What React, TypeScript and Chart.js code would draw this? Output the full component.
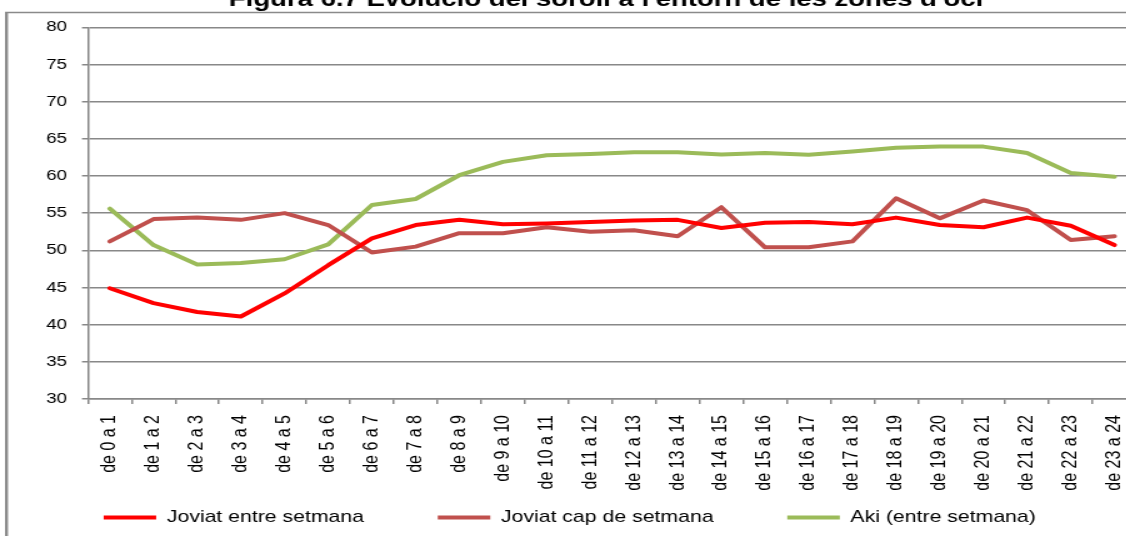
import React, { useEffect, useRef } from 'react';
import { Chart, registerables } from 'chart.js';

Chart.register(...registerables);

// ---- data ----
const TITLE = "Figura 6.7 Evolució del soroll a l'entorn de les zones d'oci";

const CATEGORIES = [
  'de 0 a 1', 'de 1 a 2', 'de 2 a 3', 'de 3 a 4', 'de 4 a 5', 'de 5 a 6',
  'de 6 a 7', 'de 7 a 8', 'de 8 a 9', 'de 9 a 10', 'de 10 a 11', 'de 11 a 12',
  'de 12 a 13', 'de 13 a 14', 'de 14 a 15', 'de 15 a 16', 'de 16 a 17', 'de 17 a 18',
  'de 18 a 19', 'de 19 a 20', 'de 20 a 21', 'de 21 a 22', 'de 22 a 23', 'de 23 a 24',
];

const SERIES_NAMES = ['Joviat entre setmana', 'Joviat cap de setmana', 'Aki (entre setmana)'];

const JOVIAT_ENTRE = [
  44.9, 42.9, 41.7, 41.1, 44.2, 48.0, 51.6, 53.4, 54.1, 53.5, 53.6, 53.8,
  54.0, 54.1, 53.0, 53.7, 53.8, 53.5, 54.4, 53.4, 53.1, 54.4, 53.3, 50.7,
];

const JOVIAT_CAP = [
  51.2, 54.2, 54.4, 54.1, 55.0, 53.4, 49.7, 50.5, 52.3, 52.3, 53.1, 52.5,
  52.7, 51.9, 55.8, 50.4, 50.4, 51.2, 57.0, 54.3, 56.7, 55.4, 51.4, 51.9,
];

const AKI_ENTRE = [
  55.6, 50.7, 48.1, 48.3, 48.8, 50.8, 56.1, 56.9, 60.1, 61.9, 62.8, 62.95,
  63.2, 63.2, 62.9, 63.1, 62.85, 63.3, 63.8, 63.95, 63.95, 63.1, 60.4, 59.9,
];

const Y_MIN = 30;
const Y_MAX = 80;
const Y_STEP = 5;

const COLORS = ['#FF0000', '#C0504D', '#9BBB59'];

// ---- layout (the reference picture is stretched horizontally) ----
const SX = 1.25;
const PAGE_W = 1126;
const PAGE_H = 536;
const CANVAS_W = 922;
const PLOT_LEFT = 88 / SX;
const PLOT_RIGHT_PAD = 10.4;
const PLOT_TOP = 27.3;
const PLOT_BOTTOM = 399;
const GRID = '#888888';
const FONT = "'Liberation Sans', Arial, sans-serif";

const decorPlugin = {
  id: 'decor',
  afterLayout(chart: any) {
    // let the rotated category labels run down past the axis box (no clipping)
    const xs = chart.scales && chart.scales.x;
    if (xs) xs.bottom = chart.height;
  },
  beforeDraw(chart: any) {
    const ctx = chart.ctx;
    ctx.save();
    ctx.fillStyle = '#ffffff';
    ctx.fillRect(0, 0, chart.width, chart.height);
    ctx.strokeStyle = '#8a8a8a';
    ctx.lineWidth = 2.4;
    ctx.beginPath();
    ctx.moveTo(5.2, 12);
    ctx.lineTo(5.2, chart.height);
    ctx.stroke();
    ctx.lineWidth = 1.5;
    ctx.beginPath();
    ctx.moveTo(4, 12.5);
    ctx.lineTo(chart.width, 12.5);
    ctx.stroke();
    ctx.restore();
  },
  afterDraw(chart: any) {
    const ctx = chart.ctx;
    ctx.save();
    ctx.fillStyle = '#000000';
    ctx.font = `bold 22px ${FONT}`;
    ctx.textAlign = 'center';
    ctx.textBaseline = 'alphabetic';
    ctx.fillText(TITLE, 606 / SX, 6);
    ctx.restore();
  },
};

export default function App() {
  const canvasRef = useRef<HTMLCanvasElement | null>(null);

  useEffect(() => {
    if (!canvasRef.current) return;
    const series = [JOVIAT_ENTRE, JOVIAT_CAP, AKI_ENTRE];
    const chart = new Chart(canvasRef.current, {
      type: 'line',
      data: {
        labels: CATEGORIES,
        datasets: series.map((values, i) => ({
          label: SERIES_NAMES[i],
          data: values,
          borderColor: COLORS[i],
          backgroundColor: COLORS[i],
          borderWidth: 4,
          borderCapStyle: 'round',
          borderJoinStyle: 'round',
          pointRadius: 0,
          pointHoverRadius: 0,
          tension: 0,
          fill: false,
        })),
      },
      options: {
        animation: false,
        responsive: true,
        maintainAspectRatio: false,
        devicePixelRatio: 1,
        layout: { padding: { left: 0, right: PLOT_RIGHT_PAD, top: PLOT_TOP, bottom: 0 } },
        plugins: {
          title: { display: false },
          tooltip: { enabled: false },
          legend: {
            display: true,
            position: 'bottom',
            align: 'center',
            labels: {
              usePointStyle: true,
              pointStyle: 'line',
              pointStyleWidth: 42,
              padding: 59,
              color: '#000000',
              font: { family: FONT, size: 17 },
            },
          },
        },
        scales: {
          x: {
            type: 'category',
            offset: true,
            grid: {
              offset: true,
              drawOnChartArea: false,
              drawTicks: true,
              tickLength: 5,
              color: GRID,
              lineWidth: 1.5,
            },
            border: { display: true, color: GRID, width: 1.5 },
            ticks: {
              autoSkip: false,
              maxRotation: 90,
              minRotation: 90,
              padding: 11,
              color: '#000000',
              font: { family: FONT, size: 16 },
            },
            afterFit: (scale: any) => {
              const legendH = scale.chart.legend ? scale.chart.legend.height : 0;
              scale.height = scale.chart.height - PLOT_BOTTOM - legendH;
            },
          },
          y: {
            min: Y_MIN,
            max: Y_MAX,
            grid: {
              drawOnChartArea: true,
              drawTicks: true,
              tickLength: 4.8,
              color: GRID,
              lineWidth: 1.5,
            },
            border: { display: true, color: GRID, width: 1.5 },
            ticks: {
              stepSize: Y_STEP,
              padding: 12,
              color: '#000000',
              font: { family: FONT, size: 15 },
            },
            afterFit: (scale: any) => {
              scale.width = PLOT_LEFT;
            },
          },
        },
      },
      plugins: [decorPlugin],
    } as any);
    return () => chart.destroy();
  }, []);

  return (
    <div
      style={{
        position: 'fixed',
        left: 0,
        top: 0,
        width: PAGE_W,
        height: PAGE_H,
        overflow: 'hidden',
        background: '#ffffff',
      }}
    >
      <div
        style={{
          position: 'absolute',
          left: 0,
          top: 0,
          width: CANVAS_W,
          height: PAGE_H,
          transform: `scaleX(${SX})`,
          transformOrigin: '0 0',
        }}
      >
        <canvas ref={canvasRef} />
      </div>
    </div>
  );
}
